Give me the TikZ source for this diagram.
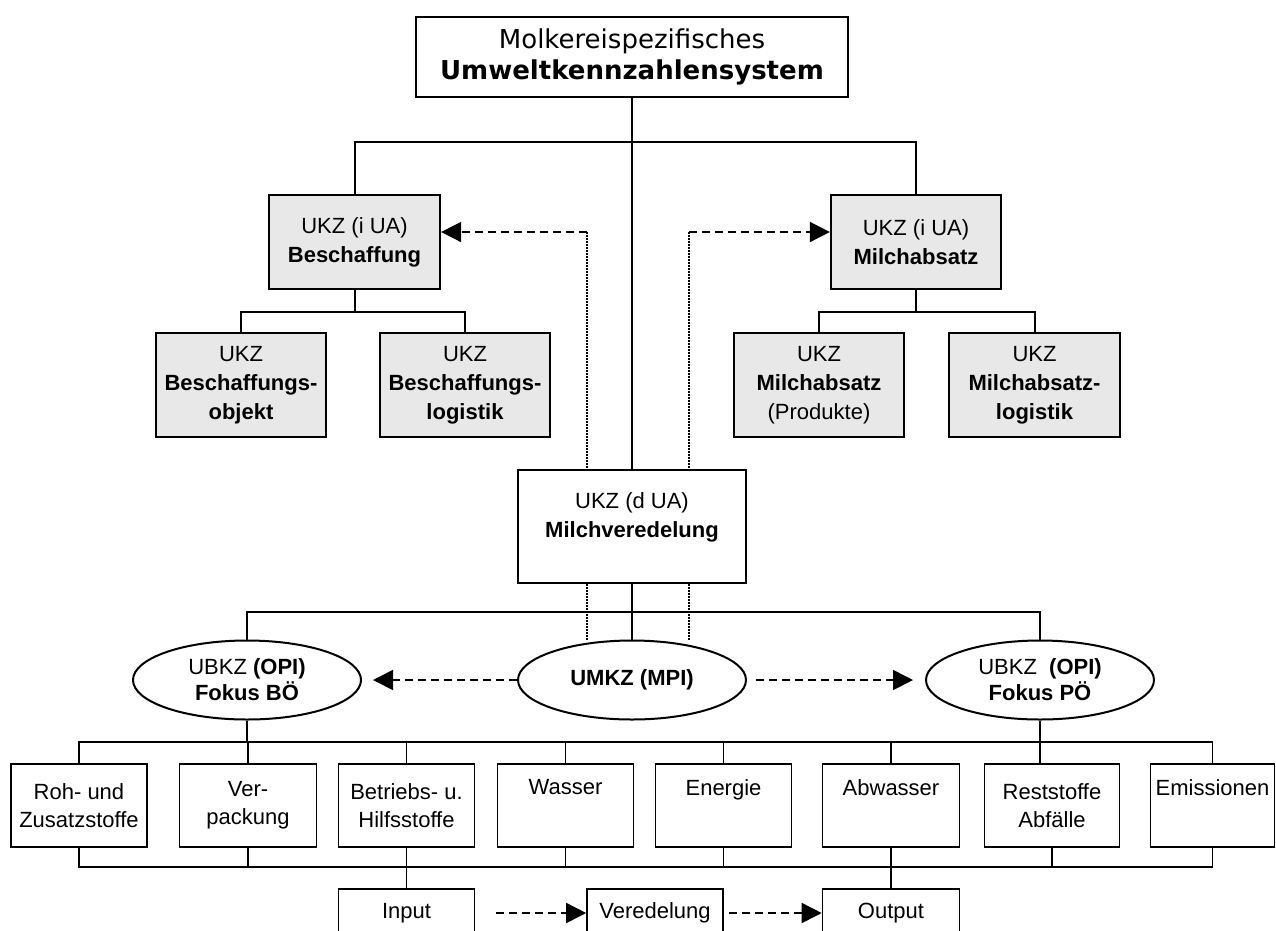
\documentclass[tikz,border=0pt]{standalone}
\usepackage{fontspec}
\setmainfont{Liberation Sans}
\newfontfamily\titlefont{DejaVu Sans}
\usetikzlibrary{arrows.meta,shapes.geometric}

\definecolor{boxgray}{RGB}{232,232,232}

\tikzset{
  conn/.style={line width=2pt},
  box/.style={draw, line width=2.2pt, inner sep=0pt, align=center,
    font=\fontsize{22}{29}\selectfont},
  greybox/.style={box, fill=boxgray},
  oval/.style={draw, ellipse, line width=2pt, inner sep=0pt, align=center,
    minimum width=228pt, minimum height=79pt, font=\fontsize{22}{26}\selectfont},
  field/.style={draw, line width=1.6pt, inner sep=0pt, align=center,
    minimum height=83pt, font=\fontsize{22}{28}\selectfont},
  dasharrow/.style={line width=1.6pt, dash pattern=on 8pt off 5pt,
    -{Triangle[length=20pt,width=20pt]}},
  dotline/.style={line width=1.5pt, dash pattern=on 1.5pt off 1.5pt},
}

\begin{document}
\begin{tikzpicture}[x=1pt,y=-1pt]
\useasboundingbox (0,0) rectangle (1276,930);

% top of the tree
\node[box, minimum width=432pt, minimum height=80pt,
  font=\titlefont\fontsize{26}{31}\selectfont] (kzs) at (632,57)
  {Molkereispezifisches\\\textbf{Umweltkennzahlensystem}};
\node[greybox, minimum width=171pt, minimum height=94pt] (besch) at (354.5,242)
  {UKZ (i UA)\\\textbf{Beschaffung}};
\node[greybox, minimum width=170pt, minimum height=94pt] (milch) at (916,242)
  {UKZ (i UA)\\\textbf{Milchabsatz}};

\node[greybox, minimum width=170pt, minimum height=104pt] (bobj) at (241,385)
  {UKZ\\\textbf{Beschaffungs-}\\\textbf{objekt}};
\node[greybox, minimum width=170pt, minimum height=104pt] (blog) at (465,385)
  {UKZ\\\textbf{Beschaffungs-}\\\textbf{logistik}};
\node[greybox, minimum width=170pt, minimum height=104pt] (mprod) at (819,385)
  {UKZ\\\textbf{Milchabsatz}\\(Produkte)};
\node[greybox, minimum width=171pt, minimum height=104pt] (mlog) at (1034.5,385)
  {UKZ\\\textbf{Milchabsatz-}\\\textbf{logistik}};

\node[box, minimum width=228pt, minimum height=113pt] (mv) at (632,526.5)
  {UKZ (d UA)\\\textbf{Milchveredelung}\\[-14pt]\strut};

% indicator ovals
\node[oval] (boe) at (247,680) {UBKZ \textbf{(OPI)}\\\textbf{Fokus B\"O}};
\node[oval] (umkz) at (632,680) {\textbf{UMKZ (MPI)}};
\node[oval] (poe) at (1040,680) {UBKZ\ \ \textbf{(OPI)}\\\textbf{Fokus P\"O}};

% fields
\foreach \i/\x/\w/\txt in {1/79/136/{Roh- und\\Zusatzstoffe},
    2/248/137/{Ver-\\packung}, 3/406.5/136/{Betriebs- u.\\Hilfsstoffe},
    4/565.5/136/{Wasser\\\strut}, 5/723.5/136/{Energie\\\strut},
    6/891/137/{Abwasser\\\strut}, 7/1052/135/{Reststoffe\\Abf\"alle},
    8/1212.5/124/{Emissionen\\\strut}}
  \node[field, minimum width=\w pt] (f\i) at (\x,805.5) {\txt};

\node[field, minimum width=136pt, minimum height=48pt] (inp) at (406.5,913) {Input};
\node[field, minimum width=136pt, minimum height=48pt] (ver) at (655,913) {Veredelung};
\node[field, minimum width=137pt, minimum height=48pt] (outp) at (891,913) {Output};

% tree lines
\draw[conn] (kzs.south) -- (mv.north);
\draw[conn] (besch.north) |- (kzs.south |- 0,142) -| (milch.north);
\draw[conn] (besch.south) -- (besch.south |- 0,312);
\draw[conn] (bobj.north) |- (blog.north |- 0,312) -- (blog.north);
\draw[conn] (milch.south) -- (milch.south |- 0,312);
\draw[conn] (mprod.north) |- (mlog.north |- 0,312) -- (mlog.north);

\draw[conn] (mv.south) -- (umkz.north);
\draw[conn] (boe.north) |- (poe.north |- 0,612) -- (poe.north);

\draw[line width=1.6pt] (boe.south) -- (boe.south |- 0,742);
\draw[line width=1.6pt] (poe.south) -- (f7.north -| poe.south);
\draw[line width=1.6pt] (f1.north) |- (f8.north |- 0,742) -- (f8.north);
\foreach \i in {2,...,6}
  \draw[line width=1.6pt] (f\i.north) -- (f\i.north |- 0,742);

\draw[line width=1.6pt] (f1.south) |- (f8.south |- 0,867) -- (f8.south);
\foreach \i in {2,...,7}
  \draw[line width=1.6pt] (f\i.south) -- (f\i.south |- 0,867);
\draw[line width=1.6pt] (f3.south) -- (inp.north);
\draw[line width=1.6pt] (f6.south) -- (outp.north);

% side links
\coordinate (dl) at (587,232);
\coordinate (dr) at (689,232);
\draw[dotline] (dl) -- (dl |- mv.north);
\draw[dotline] (dl |- mv.south) -- (dl |- umkz.north);
\draw[dotline] (dr) -- (dr |- mv.north);
\draw[dotline] (dr |- mv.south) -- (dr |- umkz.north);
\draw[dasharrow] (dl) -- (besch.east |- dl);
\draw[dasharrow] (dr) -- (milch.west |- dr);

\draw[dasharrow, shorten >=11pt] (umkz) -- (boe);
\draw[dasharrow, shorten <=9pt, shorten >=12pt] (umkz) -- (poe);

\draw[dasharrow, shorten <=21pt] (inp) -- (ver);
\draw[dasharrow, shorten <=5pt] (ver) -- (outp);
\end{tikzpicture}
\end{document}
